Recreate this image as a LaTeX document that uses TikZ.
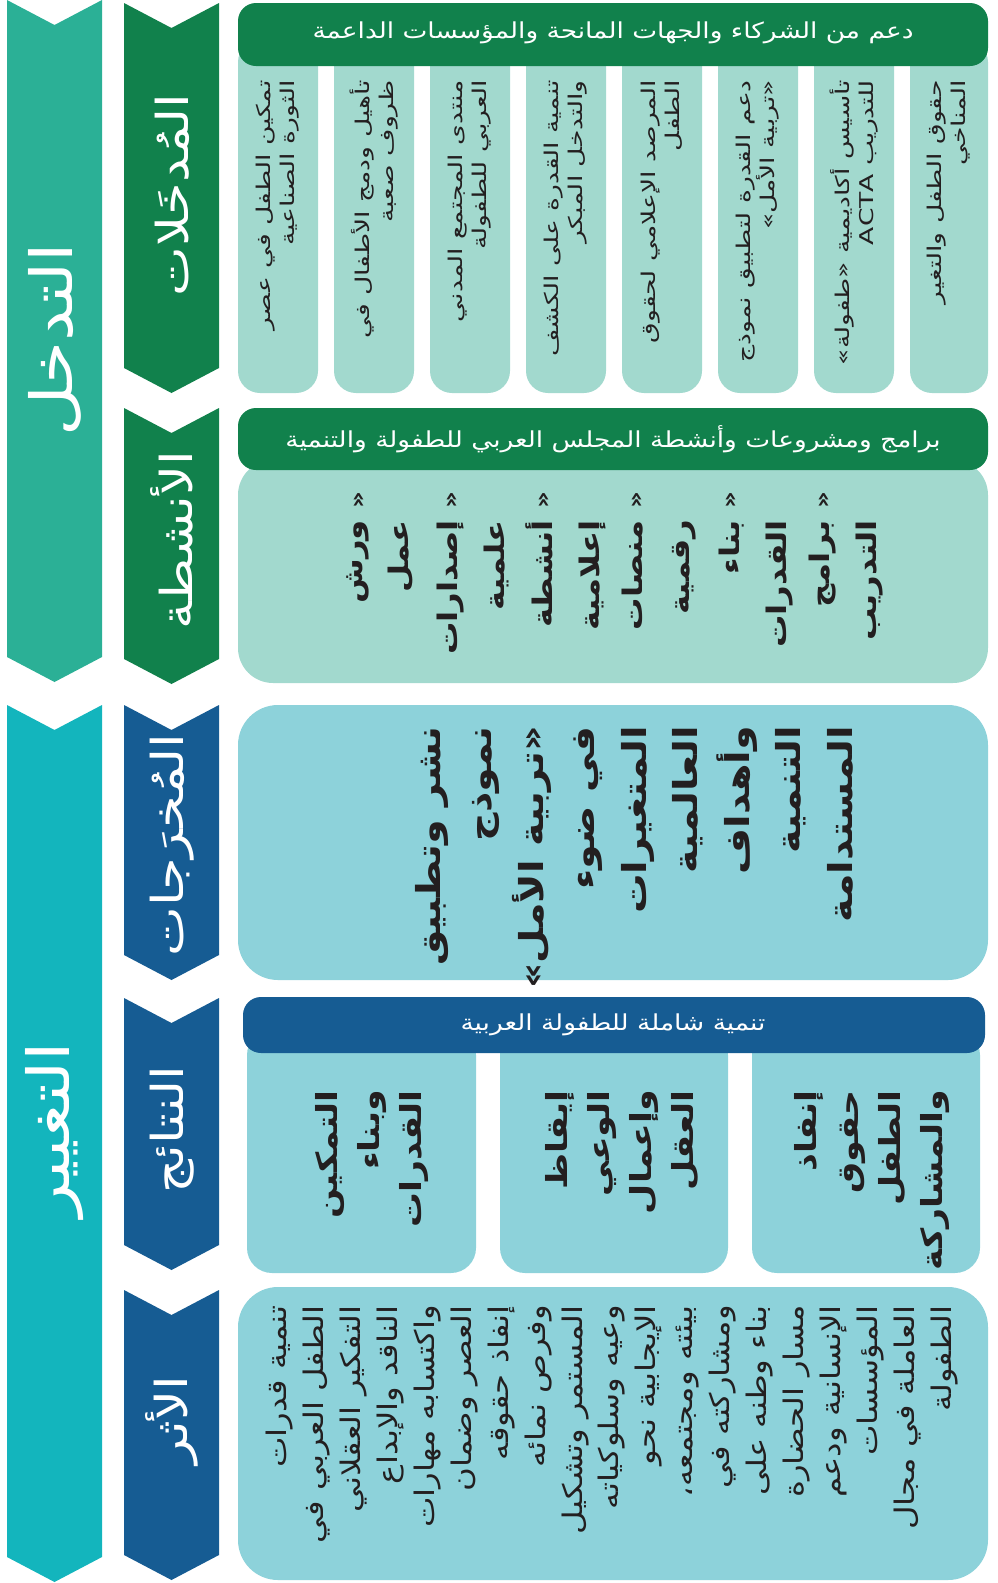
\documentclass[tikz,border=0pt]{standalone}
\usepackage{fontspec}
\newfontfamily\arabicfont[Script=Arabic, FakeStretch=1.2]{DejaVu Sans}
\newfontfamily\arabicwide[Script=Arabic, FakeStretch=1.4]{DejaVu Sans}
\TeXXeTstate=1
\usetikzlibrary{positioning}
\definecolor{introteal}{HTML}{2BB096}
\definecolor{changeteal}{HTML}{13B5BD}
\definecolor{darkgreen}{HTML}{11814C}
\definecolor{darkblue}{HTML}{165C93}
\definecolor{lightgreen}{HTML}{A2D9CE}
\definecolor{lightblue}{HTML}{8DD2DA}
\definecolor{inkblack}{HTML}{231F20}
\newcommand{\ar}[1]{\beginR #1\endR}
\newcommand{\fsz}[2]{\fontsize{#1}{#2}\selectfont}
% chevron: colour, left, right, top, bottom
\newcommand{\chevron}[5]{%
  \fill[#1] (#2,#4) -- ({(#2+#3)/2},#4+25) -- (#3,#4) -- (#3,#5)
    -- ({(#2+#3)/2},#5+25) -- (#2,#5) -- cycle;}
\tikzset{
	bigtext/.style={
			rotate=90,
			text=white,
			inner sep=0pt,
			font=\arabicfont\fsz{58}{64}
		},
	stagetext/.style={
			rotate=90,
			text=white,
			inner sep=0pt,
			font=\arabicfont\fsz{44}{50}
		},
	headtext/.style={
			text=white,
			inner sep=0pt,
			font=\arabicfont\fsz{22}{26}
		},
	inputtext/.style={
			rotate=90,
			anchor=east,
			align=right,
			inner sep=0pt,
			text=inkblack,
			font=\arabicwide\fsz{19}{24}
		},
	activitytext/.style={
			inputtext,
			font=\arabicfont\bfseries\fsz{27}{46.5}
		},
	bullettext/.style={
			rotate=-90,
			inner sep=0pt,
			text=inkblack,
			font=\arabicfont\bfseries\fsz{22}{24}
		},
	outputtext/.style={
			inputtext,
			font=\arabicfont\bfseries\fsz{33}{51.5}
		},
	resulttext/.style={
			inputtext,
			font=\arabicfont\bfseries\fsz{29}{42}
		},
	impacttext/.style={
			inputtext,
			font=\arabicfont\fsz{27}{36.9}
		}
}

\begin{document}
\begin{tikzpicture}[x=1pt,y=-1pt]
\useasboundingbox (0,0) rectangle (997,1583);

% left columns
\chevron{introteal}{7}{102}{0}{657}
\chevron{changeteal}{7}{102}{705}{1557}
\chevron{darkgreen}{124}{219}{3}{368}
\chevron{darkgreen}{124}{219}{408}{659}
\chevron{darkblue}{124}{219}{705}{955}
\chevron{darkblue}{124}{219}{998}{1245}
\chevron{darkblue}{124}{219}{1290}{1555}

\node[bigtext] (lIntervention) at (55,340) {\ar{التدخل}};
\node[bigtext] (lChange) at (55,1130) {\ar{التغيير}};
\node[stagetext] (lInputs) at (172,195) {\ar{المُدخَلات}};
\node[stagetext] (lActivities) at (172,540) {\ar{الأنشطة}};
\node[stagetext] (lOutputs) at (172,845) {\ar{المُخرَجات}};
\node[stagetext] (lResults) at (172,1130) {\ar{النتائج}};
\node[stagetext] (lImpact) at (172,1420) {\ar{الأثر}};

% inputs
\fill[lightgreen, rounded corners=22pt] (238,40) rectangle (318,393);
\fill[lightgreen, rounded corners=22pt] (334,40) rectangle (414,393);
\fill[lightgreen, rounded corners=22pt] (430,40) rectangle (510,393);
\fill[lightgreen, rounded corners=22pt] (526,40) rectangle (606,393);
\fill[lightgreen, rounded corners=22pt] (622,40) rectangle (702,393);
\fill[lightgreen, rounded corners=22pt] (718,40) rectangle (798,393);
\fill[lightgreen, rounded corners=22pt] (814,40) rectangle (894,393);
\fill[lightgreen, rounded corners=22pt] (910,40) rectangle (988,393);
\fill[darkgreen, rounded corners=18pt] (238,3) rectangle (988,66);
\node[headtext] (hInputs) at (613,33) {\ar{دعم من الشركاء والجهات المانحة والمؤسسات الداعمة}};

\node[inputtext] (iRevolution) at (278,80) {\ar{تمكين الطفل في عصر}\\\ar{الثورة الصناعية}};
\node[inputtext] (iRehab) at (374,80) {\ar{تأهيل ودمج الأطفال في}\\\ar{ظروف صعبة}};
\node[inputtext] (iForum) at (470,80) {\ar{منتدى المجتمع المدني}\\\ar{العربي للطفولة}};
\node[inputtext] (iEarly) at (566,80) {\ar{تنمية القدرة على الكشف}\\\ar{والتدخل المبكر}};
\node[inputtext] (iMedia) at (662,80) {\ar{المرصد الإعلامي لحقوق}\\\ar{الطفل}};
\node[inputtext] (iHope) at (758,80) {\ar{دعم القدرة لتطبيق نموذج}\\\ar{«تربية الأمل»}};
\node[inputtext] (iActa) at (854,80) {\ar{تأسيس أكاديمية «طفولة»}\\\ar{للتدريب \beginL ACTA\endL}};
\node[inputtext] (iClimate) at (949,80) {\ar{حقوق الطفل والتغير}\\\ar{المناخي}};

% activities
\fill[lightgreen, rounded corners=35pt] (238,460) rectangle (988,683);
\fill[darkgreen, rounded corners=18pt] (238,408) rectangle (988,470);
\node[headtext] (hActivities) at (613,439) {\ar{برامج ومشروعات وأنشطة المجلس العربي للطفولة والتنمية}};

\node[bullettext] (bWorkshops) at (358,500) {»};
\node[bullettext] (bPapers) at (451,500) {»};
\node[bullettext] (bMedia) at (543,500) {»};
\node[bullettext] (bDigital) at (636,500) {»};
\node[bullettext] (bCapacity) at (730,500) {»};
\node[bullettext] (bTraining) at (823,500) {»};
\node[activitytext] (aWorkshops) at (380,520) {\ar{ورش}\\\ar{عمل}};
\node[activitytext] (aPapers) at (473,520) {\ar{إصدارات}\\\ar{علمية}};
\node[activitytext] (aMedia) at (566,520) {\ar{أنشطة}\\\ar{إعلامية}};
\node[activitytext] (aDigital) at (659,520) {\ar{منصات}\\\ar{رقمية}};
\node[activitytext] (aCapacity) at (756,520) {\ar{بناء}\\\ar{القدرات}};
\node[activitytext] (aTraining) at (846,520) {\ar{برامج}\\\ar{التدريب}};

% outputs
\fill[lightblue, rounded corners=40pt] (238,705) rectangle (988,980);
\node[outputtext] (oHope) at (634,726) {\ar{نشر وتطبيق}\\\ar{نموذج}\\\ar{«تربية الأمل»}\\\ar{في ضوء}\\\ar{المتغيرات}\\\ar{العالمية}\\\ar{وأهداف}\\\ar{التنمية}\\\ar{المستدامة}};

% results
\fill[lightblue, rounded corners=25pt] (247,1030) rectangle (476,1273);
\fill[lightblue, rounded corners=25pt] (500,1030) rectangle (728,1273);
\fill[lightblue, rounded corners=25pt] (752,1030) rectangle (980,1273);
\fill[darkblue, rounded corners=18pt] (243,997) rectangle (985,1053);
\node[headtext] (hResults) at (613,1025) {\ar{تنمية شاملة للطفولة العربية}};

\node[resulttext] (rEmpower) at (372,1090) {\ar{التمكين}\\\ar{وبناء}\\\ar{القدرات}};
\node[resulttext] (rAwake) at (622,1090) {\ar{إيقاظ}\\\ar{الوعي}\\\ar{وإعمال}\\\ar{العقل}};
\node[resulttext] (rRights) at (872,1090) {\ar{إنفاذ}\\\ar{حقوق}\\\ar{الطفل}\\\ar{والمشاركة}};

% impact
\fill[lightblue, rounded corners=40pt] (238,1287) rectangle (988,1580);
\node[impacttext] (mImpact) at (612,1305) {\ar{تنمية قدرات}\\\ar{الطفل العربي في}\\\ar{التفكير العقلاني}\\\ar{الناقد والإبداع}\\\ar{واكتسابه مهارات}\\\ar{العصر وضمان}\\\ar{إنفاذ حقوقه}\\\ar{وفرص نمائه}\\\ar{المستمر وتشكيل}\\\ar{وعيه وسلوكياته}\\\ar{الإيجابية نحو}\\\ar{بيئته ومجتمعه،}\\\ar{ومشاركته في}\\\ar{بناء وطنه على}\\\ar{مسار الحضارة}\\\ar{الإنسانية ودعم}\\\ar{المؤسسات}\\\ar{العاملة في مجال}\\\ar{الطفولة}};

\end{tikzpicture}
\end{document}
